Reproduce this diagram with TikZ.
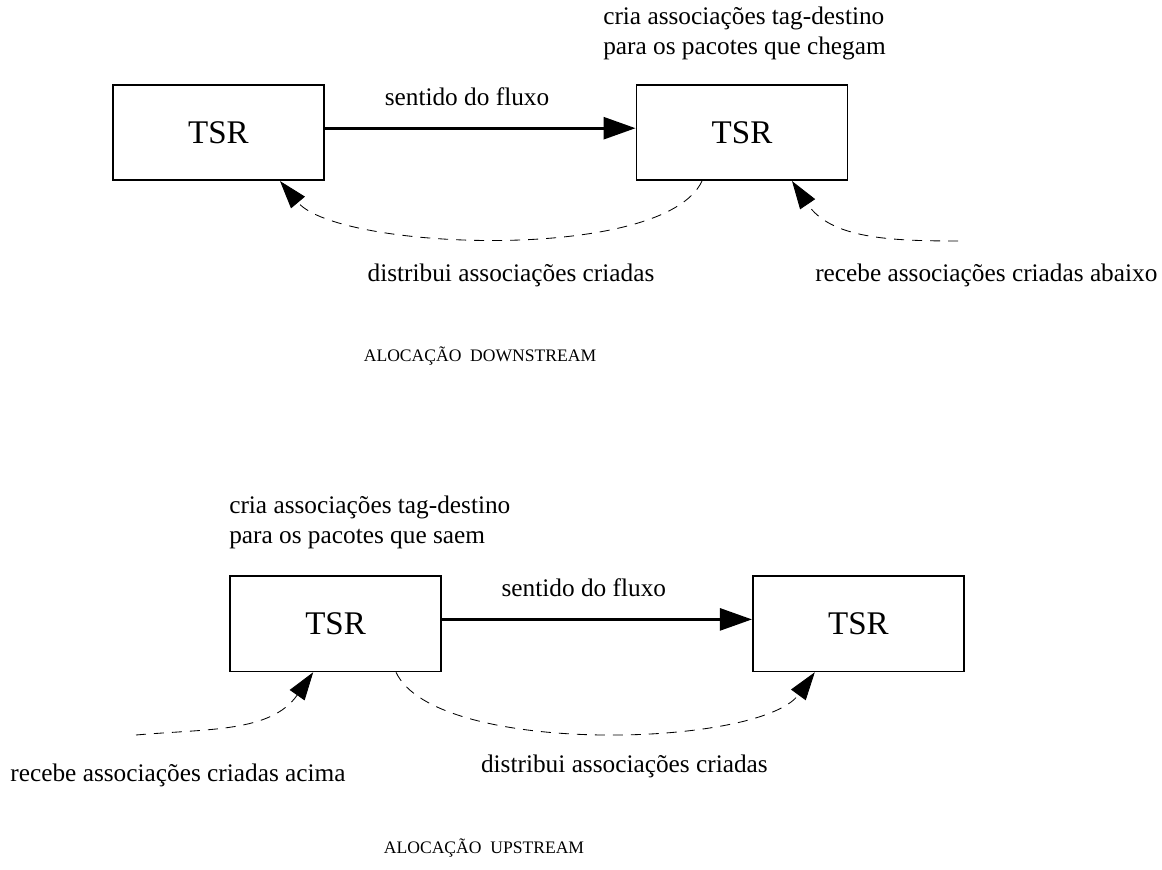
\documentclass[tikz,border=0pt]{standalone}
\usepackage{fontspec}
\setmainfont{Liberation Serif}
\usetikzlibrary{arrows.meta}
\tikzset{
  router/.style={draw, line width=1.2pt, minimum width=5.28cm, minimum height=2.38cm, inner sep=0pt, font=\fontsize{23.5}{28}\selectfont},
  flow/.style={line width=1.9pt, -{Triangle[length=8mm,width=5.5mm]}},
  assoc/.style={line width=0.6pt, dash pattern=on 2.5mm off 2mm, -{Triangle[length=7mm,width=4.5mm]}},
  lbl/.style={font=\fontsize{18}{21}\selectfont, inner sep=0pt},
  flowlbl/.style={lbl, anchor=base, yshift=5.75mm, xshift=-3.3mm},
  heading/.style={font=\fontsize{12.5}{15}\selectfont, inner sep=0pt, anchor=base}
}

\begin{document}
\begin{tikzpicture}
      \useasboundingbox (0,0) rectangle (29.05,21.725);

      % Downstream allocation
      \node[router] (ds1) at (5.46,18.41) {TSR};
      \node[router] (ds2) at (18.55,18.41) {TSR};
      \draw[flow] ([yshift=1.1mm]ds1.east) -- node[flowlbl] {sentido do fluxo} ([yshift=1.1mm]ds2.west);
      \node[lbl, anchor=north west, align=left] (dsnote) at (15.075,21.55) {cria associações tag-destino\\para os pacotes que chegam};

      \coordinate (dsfeed) at (23.95,15.7);
      \draw[assoc] ([xshift=-1cm]ds2.south) to[out=-115,in=-50,looseness=0.55] ([xshift=1.54cm]ds1.south);
      \draw[assoc] (dsfeed) to[out=180,in=-56] ([xshift=1.25cm]ds2.south);
      \node[lbl, anchor=base] (dsgive) at (12.775,14.675) {distribui associações criadas};
      \node[lbl, anchor=base west] (dstake) at (20.375,14.675) {recebe associações criadas abaixo};

      \node[heading] (dstitle) at (12.0,12.675) {ALOCAÇÃO\ \ DOWNSTREAM};

      % Upstream allocation
      \node[router] (us1) at (8.39,6.13) {TSR};
      \node[router] (us2) at (21.46,6.13) {TSR};
      \draw[flow] ([yshift=1.1mm]us1.east) -- node[flowlbl] {sentido do fluxo} ([yshift=1.1mm]us2.west);
      \node[lbl, anchor=north west, align=left] (usnote) at (5.725,9.325) {cria associações tag-destino\\para os pacotes que saem};

      \coordinate (usfeed) at (3.4,3.35);
      \draw[assoc] (usfeed) to[out=5,in=-125] ([xshift=-0.56cm]us1.south);
      \draw[assoc] ([xshift=1.51cm]us1.south) to[out=-65,in=-126,looseness=0.57] ([xshift=-1.09cm]us2.south);
      \node[lbl, anchor=base] (ustake) at (4.45,2.2) {recebe associações criadas acima};
      \node[lbl, anchor=base] (usgive) at (15.61,2.425) {distribui associações criadas};

      \node[heading] (ustitle) at (12.1,0.4) {ALOCAÇÃO\ \ UPSTREAM};
\end{tikzpicture}
\end{document}
